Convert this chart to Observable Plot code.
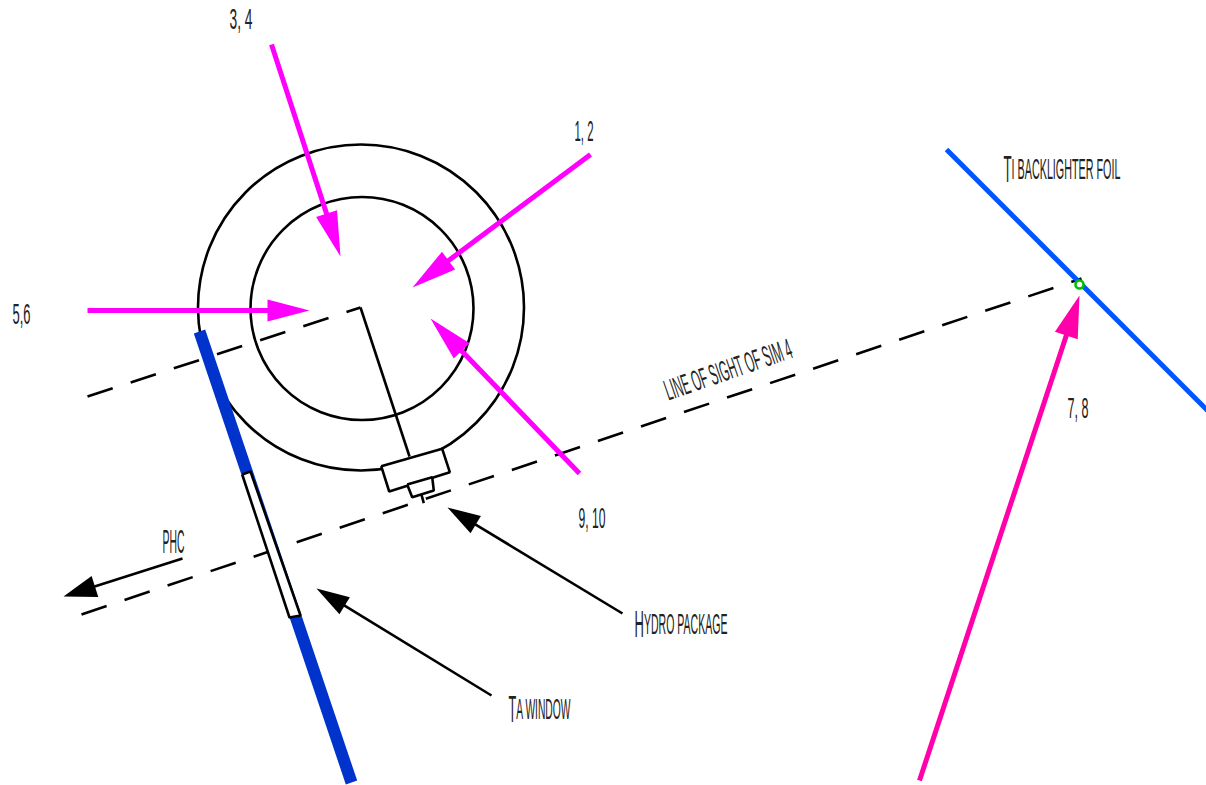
<!DOCTYPE html>
<html>
<head>
<meta charset="utf-8">
<script src="https://cdn.jsdelivr.net/npm/d3@7"></script>
<script src="https://cdn.jsdelivr.net/npm/@observablehq/plot@0.6"></script>
<style>
html,body{margin:0;padding:0;background:#fff;overflow:hidden}
svg{display:block}
</style>
</head>
<body>
<div id="chart"></div>
<script>
// Capsule rings
const outerCapsule = [{x: 360.5, y: 307}];
const innerCapsule = [{x: 361.5, y: 308}];

// Beams: tail -> tip
const beam34  = [[271, 44], [340, 256]];
const beam12  = [[590, 154], [412, 287]];
const beam56  = [[87, 310], [309, 310]];
const beam910 = [[579, 473], [430, 318]];
const beam78  = [[919, 780], [1079, 295]];

// Pointers: tail -> tip
const pointerPHC   = [[182, 558], [63, 596]];
const pointerHydro = [[622, 613], [447, 507]];
const pointerTa    = [[491, 695], [316, 588]];

// Lines of sight
const sightMain  = [[81, 614], [1081, 278]];
const sightUpper = [[87, 396], [360, 307]];
const sightAxis  = [[360, 307], [409, 456]];

// Hardware
const phcWall   = [[199, 331], [351, 782]];
const foil      = [[946, 149], [1210, 413]];
const taWindow  = [[241.7, 474], [250, 471], [300, 615], [289, 617]];
const hydroBody = [[380.7, 465.7], [441.7, 448.3], [449.3, 471.7], [388.7, 491]];
const hydroCap  = [[406.7, 484], [431.7, 476.7], [433.3, 490], [411.7, 496.7]];
const hydroPin  = [[421, 494.3], [423.3, 502.7]];
const foilPoint = [{x: 1079, y: 284}];

// Labels
const labelText = ["3, 4", "1, 2", "5,6", "9, 10", "7, 8", "PHC", "Ti backlighter foil", "Hydro package", "Ta window", "line of sight of SIM 4"];
const labelX    = [229, 574, 12, 578, 1067, 162, 1003, 634, 508, 668];
const labelY    = [28, 140, 323, 527, 417, 552, 178, 633, 718, 400];
const labelW    = [23, 19, 18, 27, 21, 22, 117, 93, 62, 133];
const labelSize = [30, 30, 30, 30, 30, 33, 30, 30, 30, 29];
const labelRot  = [0, 0, 0, 0, 0, 0, 0, 0, 0, -19];
const bigInitial = ["Ti backlighter foil", "Hydro package", "Ta window"];

const xy = {x: d => d[0], y: d => d[1]};
const ink = "#000";
const magenta = "#ff00ff";

function head([tail, tip], len, half) {
  const dx = tip[0] - tail[0], dy = tip[1] - tail[1], n = Math.hypot(dx, dy);
  const ux = dx / n, uy = dy / n;
  const bx = tip[0] - ux * len, by = tip[1] - uy * len;
  return [[bx - uy * half, by + ux * half], tip, [bx + uy * half, by - ux * half]];
}
function shaft([tail, tip], len) {
  const dx = tip[0] - tail[0], dy = tip[1] - tail[1], n = Math.hypot(dx, dy);
  return [tail, [tip[0] - dx / n * len, tip[1] - dy / n * len]];
}
const line = (pts, stroke, strokeWidth, extra = {}) =>
  Plot.line(pts, {...xy, stroke, strokeWidth, strokeLinecap: "butt", strokeLinejoin: "miter", ...extra});
const poly = (pts, fill, stroke = "none", strokeWidth = 0) =>
  Plot.line([...pts, pts[0]], {...xy, fill, stroke, strokeWidth, strokeLinejoin: "miter", strokeLinecap: "butt"});
const arrow = (pts, color, width, len, half) => [
  line(shaft(pts, len - 2), color, width),
  poly(head(pts, len, half), color)
];

const labels = labelText.map((t, i) => ({t, x: labelX[i], y: labelY[i], s: labelSize[i], r: labelRot[i]}));
const W = 2.6;

const chart = Plot.plot({
  width: 1206,
  height: 785,
  margin: 0,
  style: {background: "#fff"},
  x: {domain: [0, 1206], range: [0, 1206], axis: null},
  y: {domain: [0, 785], range: [0, 785], axis: null},
  marks: [
    Plot.dot(outerCapsule, {x: "x", y: "y", r: 163, stroke: ink, strokeWidth: W, fill: "none"}),
    Plot.dot(innerCapsule, {x: "x", y: "y", r: 111.5, stroke: ink, strokeWidth: W, fill: "none"}),
    line(sightUpper, ink, W, {strokeDasharray: "26.5,18.9"}),
    line(sightMain, ink, W, {strokeDasharray: "26.5,18.9"}),
    line(sightAxis, ink, W),
    poly(hydroBody, "#fff", ink, W),
    poly(hydroCap, "#fff", ink, W),
    line(hydroPin, ink, W),
    line(phcWall, "#0033cc", 12),
    poly(taWindow, "#fff", ink, W),
    line(foil, "#0055ff", 5),
    ...arrow(beam34, magenta, 5, 45, 11),
    ...arrow(beam12, magenta, 5, 45, 11),
    ...arrow(beam56, magenta, 5, 42, 11),
    ...arrow(beam910, magenta, 5, 45, 11),
    ...arrow(beam78, "#ff00aa", 5, 42, 12),
    ...arrow(pointerPHC, ink, W, 33, 11),
    ...arrow(pointerHydro, ink, W, 33, 10),
    ...arrow(pointerTa, ink, W, 33, 10),
    Plot.dot(foilPoint, {x: "x", y: "y", r: 4, stroke: "#00c000", strokeWidth: 2.6, fill: "#fff"}),
    Plot.text(labels, {
      x: "x", y: "y", text: "t", fontSize: "s", rotate: "r",
      textAnchor: "start", lineAnchor: "bottom", fill: "#222",
      fontFamily: "'Liberation Sans Narrow', 'Liberation Sans', sans-serif"
    })
  ]
});

document.getElementById("chart").appendChild(chart);

// Condense each label to its width in the picture; lower-case letters draw as caps
const svgNS = "http://www.w3.org/2000/svg";
Array.from(chart.querySelectorAll("text")).forEach(node => {
  const label = node.textContent;
  const i = labelText.indexOf(label);
  if (i < 0) return;
  node.style.textTransform = "uppercase";
  if (bigInitial.includes(label)) {
    const first = document.createElementNS(svgNS, "tspan");
    first.textContent = label[0];
    first.setAttribute("font-size", 37);
    first.setAttribute("dy", 3);
    const rest = document.createElementNS(svgNS, "tspan");
    rest.textContent = label.slice(1);
    rest.setAttribute("dy", -3);
    const host = node.querySelector("tspan") || node;
    host.textContent = "";
    host.append(first, rest);
  }
  const natural = node.getComputedTextLength();
  const base = node.getAttribute("transform") || "";
  node.setAttribute("transform", `${base} scale(${labelW[i] / natural},1)`);
});
</script>
</body>
</html>
